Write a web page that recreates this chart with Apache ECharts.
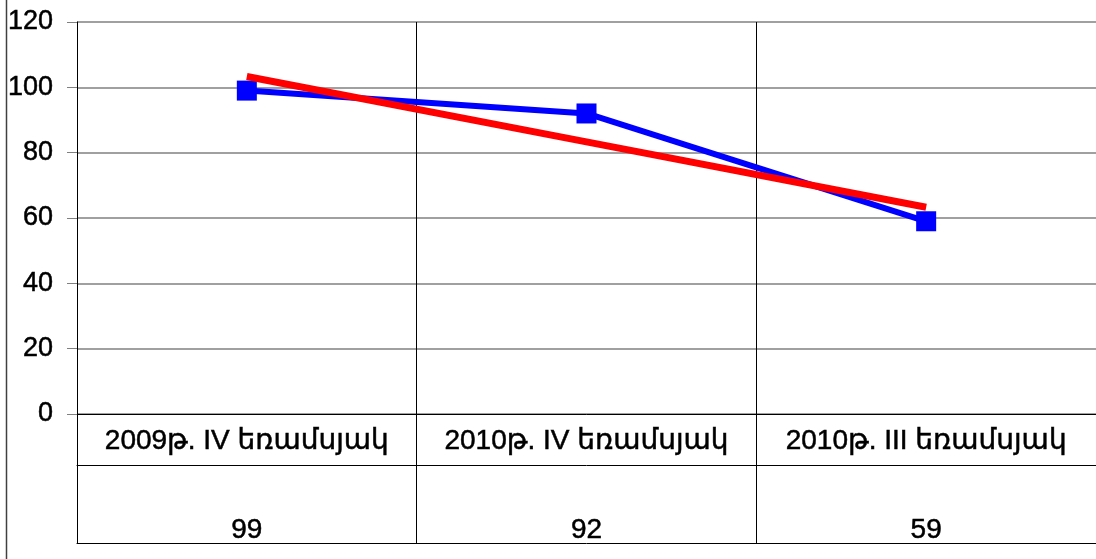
<!DOCTYPE html>
<html>
<head>
<meta charset="utf-8">
<script src="https://cdn.jsdelivr.net/npm/echarts@6/dist/echarts.min.js"></script>
<style>
  html, body { margin: 0; padding: 0; background: #fff; }
  #chart { width: 1096px; height: 559px; }
</style>
</head>
<body>
<div id="chart"></div>
<script>
// Quarterly index with its linear trend
const categories = ['2009թ. IV եռամսյակ', '2010թ. IV եռամսյակ', '2010թ. III եռամսյակ'];
const indexValues = [99, 92, 59];
const trendValues = [103.3, 83.3, 63.3];
const yTicks = { min: 0, max: 120, interval: 20 };

const FONT = '"Liberation Sans", Arial, "DejaVu Sans", sans-serif';
const chart = echarts.init(document.getElementById('chart'), null, { renderer: 'canvas' });

const plotLeft = 77;
const plotWidth = 1023;
// slightly heavier glyphs, like the original office rendering
const ink = { color: '#000', fontFamily: FONT, textBorderColor: '#000', textBorderWidth: 0.5 };

chart.setOption({
  animation: false,
  backgroundColor: '#ffffff',
  textStyle: { fontFamily: FONT },
  grid: [
    // plot area
    { left: plotLeft, width: plotWidth, top: 22, height: 392 },
    // category label row of the data table
    { left: plotLeft, width: plotWidth, top: 414, height: 51 },
    // value row of the data table
    { left: plotLeft, width: plotWidth, top: 465, height: 78 }
  ],
  xAxis: [
    {
      gridIndex: 0, type: 'category', data: categories, boundaryGap: true,
      axisLine: { show: true, lineStyle: { color: '#000', width: 1 } },
      axisTick: { show: false },
      axisLabel: Object.assign({ margin: 13, fontSize: 28, interval: 0 }, ink),
      splitLine: { show: true, lineStyle: { color: '#000', width: 1 } }
    },
    {
      gridIndex: 1, type: 'category', data: categories, boundaryGap: true,
      axisLine: { show: true, lineStyle: { color: '#000', width: 1 } },
      axisTick: { show: false },
      axisLabel: { show: false },
      splitLine: { show: true, lineStyle: { color: '#000', width: 1 } }
    },
    {
      gridIndex: 2, type: 'category', data: categories, boundaryGap: true,
      axisLine: { show: true, lineStyle: { color: '#000', width: 1 } },
      axisTick: { show: false },
      axisLabel: Object.assign({
        inside: true, margin: -1, fontSize: 28, interval: 0,
        formatter: (v, i) => String(indexValues[i])
      }, ink),
      splitLine: { show: true, lineStyle: { color: '#000', width: 1 } }
    }
  ],
  yAxis: [
    {
      gridIndex: 0, type: 'value', min: yTicks.min, max: yTicks.max, interval: yTicks.interval,
      axisLine: { show: true, lineStyle: { color: '#000', width: 1 } },
      axisTick: { show: true, length: 10, lineStyle: { color: '#808080' } },
      axisLabel: Object.assign({ margin: 24, fontSize: 27 }, ink),
      splitLine: { show: true, lineStyle: { color: '#808080', width: 1.5 } }
    },
    { gridIndex: 1, type: 'value', show: false, splitLine: { show: false } },
    { gridIndex: 2, type: 'value', show: false, splitLine: { show: false } }
  ],
  series: [
    {
      name: 'index', type: 'line', xAxisIndex: 0, yAxisIndex: 0,
      data: indexValues,
      lineStyle: { color: '#0000ff', width: 6 },
      itemStyle: { color: '#0000ff' },
      symbol: 'rect', symbolSize: 20, showSymbol: true,
      z: 2
    },
    {
      name: 'trend', type: 'line', xAxisIndex: 0, yAxisIndex: 0,
      data: trendValues,
      lineStyle: { color: '#ff0000', width: 7 },
      symbol: 'none',
      z: 3
    }
  ],
  graphic: [
    {
      type: 'line', silent: true,
      shape: { x1: 6.5, y1: 0, x2: 6.5, y2: 559 },
      style: { stroke: '#404040', lineWidth: 1.5 }
    }
  ]
});
</script>
</body>
</html>
